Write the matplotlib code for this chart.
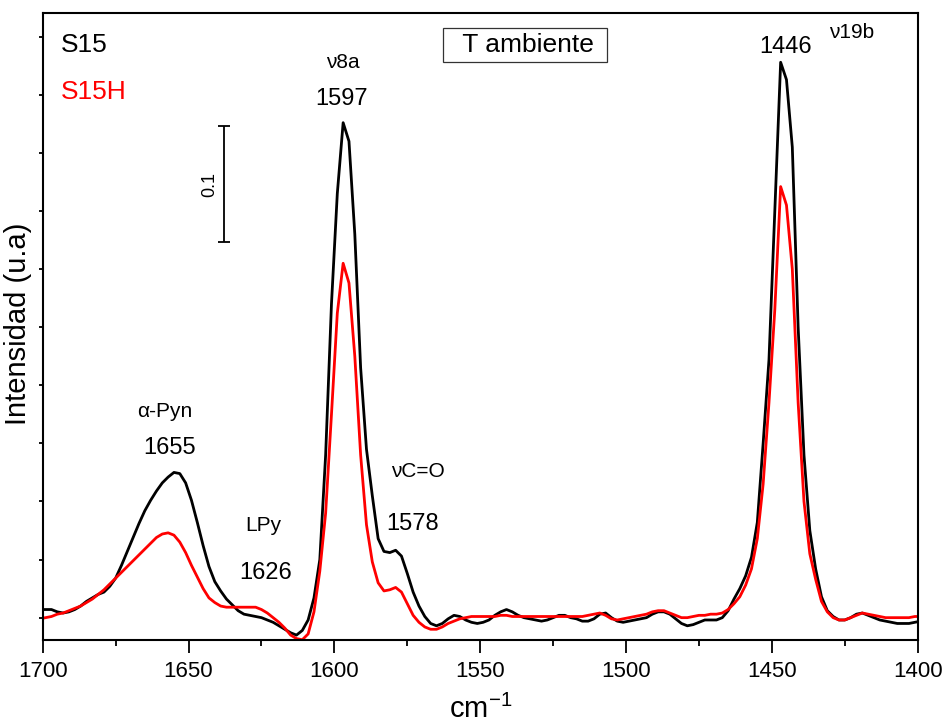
import numpy as np
import matplotlib.pyplot as plt

plt.rcParams["font.family"] = ["Liberation Sans", "DejaVu Sans"]
plt.rcParams["mathtext.default"] = "regular"

# wavenumber grid, cm-1 (descending, 2 cm-1 step)
wavenumber = np.arange(1701, 1398, -2)

# S15 spectrum
s15 = [
    0.007, 0.007, 0.007, 0.005, 0.004, 0.005, 0.007, 0.010,
    0.014, 0.017, 0.020, 0.022, 0.027, 0.034, 0.045, 0.057,
    0.069, 0.081, 0.092, 0.101, 0.109, 0.116, 0.121, 0.125,
    0.124, 0.116, 0.101, 0.082, 0.062, 0.044, 0.031, 0.023,
    0.016, 0.011, 0.006, 0.003, 0.002, 0.001, 0.000, -0.002,
    -0.004, -0.007, -0.010, -0.013, -0.015, -0.011, -0.002, 0.017,
    0.050, 0.140, 0.270, 0.365, 0.426, 0.410, 0.330, 0.215,
    0.145, 0.105, 0.068, 0.057, 0.056, 0.058, 0.053, 0.038,
    0.022, 0.010, 0.001, -0.005, -0.007, -0.005, -0.001, 0.002,
    0.001, -0.002, -0.004, -0.005, -0.004, -0.002, 0.002, 0.005,
    0.007, 0.005, 0.002, 0.000, -0.001, -0.002, -0.003, -0.002,
    0.000, 0.002, 0.002, 0.000, -0.001, -0.003, -0.003, -0.001,
    0.003, 0.004, 0.000, -0.003, -0.004, -0.003, -0.002, -0.001,
    0.000, 0.003, 0.005, 0.005, 0.003, -0.001, -0.005, -0.007,
    -0.006, -0.004, -0.002, -0.002, -0.002, 0.000, 0.006, 0.016,
    0.025, 0.036, 0.052, 0.082, 0.150, 0.222, 0.350, 0.478,
    0.463, 0.405, 0.250, 0.140, 0.075, 0.042, 0.018, 0.006,
    0.001, -0.002, -0.002, 0.000, 0.003, 0.004, 0.002, 0.000,
    -0.002, -0.003, -0.004, -0.005, -0.005, -0.005, -0.004, -0.003,
]

# S15H spectrum
s15h = [
    -0.001, 0.000, 0.001, 0.003, 0.004, 0.006, 0.008, 0.010,
    0.013, 0.016, 0.020, 0.024, 0.029, 0.034, 0.039, 0.044,
    0.049, 0.054, 0.059, 0.064, 0.069, 0.072, 0.073, 0.071,
    0.065, 0.056, 0.045, 0.035, 0.025, 0.017, 0.013, 0.010,
    0.009, 0.009, 0.009, 0.009, 0.009, 0.009, 0.007, 0.004,
    0.000, -0.004, -0.009, -0.015, -0.018, -0.019, -0.014, 0.005,
    0.040, 0.090, 0.175, 0.262, 0.305, 0.288, 0.225, 0.140,
    0.080, 0.048, 0.030, 0.023, 0.024, 0.026, 0.022, 0.012,
    0.002, -0.004, -0.008, -0.010, -0.010, -0.008, -0.005, -0.003,
    -0.001, 0.000, 0.001, 0.001, 0.001, 0.001, 0.001, 0.002,
    0.002, 0.001, 0.001, 0.001, 0.001, 0.001, 0.001, 0.001,
    0.001, 0.001, 0.001, 0.001, 0.001, 0.001, 0.002, 0.003,
    0.004, 0.002, -0.001, -0.002, -0.001, 0.000, 0.001, 0.002,
    0.003, 0.005, 0.006, 0.006, 0.004, 0.002, 0.000, 0.000,
    0.001, 0.002, 0.002, 0.003, 0.003, 0.004, 0.007, 0.012,
    0.018, 0.028, 0.042, 0.068, 0.115, 0.185, 0.265, 0.371,
    0.355, 0.300, 0.185, 0.100, 0.055, 0.033, 0.014, 0.005,
    0.000, -0.002, -0.002, 0.000, 0.002, 0.004, 0.003, 0.002,
    0.001, 0.000, 0.000, 0.000, 0.000, 0.000, 0.001, 0.001,
]

# band annotations: text, x (cm-1), y, size
bands = [
    ("\u03bd8a", 1597.0, 0.478, 15),
    ("1597", 1597.4, 0.446, 17),
    ("1446", 1445.2, 0.491, 17),
    ("\u03bd19b", 1422.6, 0.504, 15),
    ("\u03b1-Pyn", 1658.1, 0.177, 15),
    ("1655", 1656.4, 0.146, 17),
    ("LPy", 1624.5, 0.079, 15),
    ("1626", 1623.5, 0.0385, 17),
    ("\u03bdC=O", 1571.3, 0.1256, 15),
    ("1578", 1573.1, 0.081, 17),
]

fig = plt.figure(figsize=(9.43, 7.26), dpi=100)
ax = fig.add_axes([0.0453, 0.1185, 0.9279, 0.8636])

ax.plot(wavenumber, s15, color="black", lw=2.0)
ax.plot(wavenumber, s15h, color="#ff0000", lw=2.0)

ax.set_xlim(1700, 1400)
ax.set_ylim(-0.0192, 0.5204)

ax.set_xticks(np.arange(1700, 1399, -50))
ax.set_xticks(np.arange(1675, 1400, -50), minor=True)
ax.set_yticks(np.arange(0, 0.51, 0.05))
ax.set_yticklabels([])
ax.tick_params(axis="x", which="major", direction="out", length=9, width=1.3,
               labelsize=16, pad=6)
ax.tick_params(axis="x", which="minor", direction="out", length=4.5, width=1.3)
ax.tick_params(axis="y", direction="out", length=3, width=1.3)
for sp in ax.spines.values():
    sp.set_linewidth(1.5)

ax.set_xlabel("cm$^{-1}$", fontsize=21, labelpad=9)
ax.set_ylabel("Intensidad (u.a)", fontsize=21)
ax.yaxis.set_label_coords(-0.012, 0.504)

for txt, x, y, fs in bands:
    ax.text(x, y, txt, fontsize=fs, ha="center", va="center")

# sample legend
ax.text(0.021, 0.949, "S15", transform=ax.transAxes, fontsize=19,
        color="black", va="center")
ax.text(0.021, 0.874, "S15H", transform=ax.transAxes, fontsize=19,
        color="#ff0000", va="center")

ax.text(0.551, 0.949, "  T ambiente ", transform=ax.transAxes, fontsize=19,
        ha="center", va="center",
        bbox=dict(boxstyle="square,pad=0.2", fc="white", ec="#333333", lw=0.9))

# intensity scale bar
ax.errorbar(1637.7, 0.373, yerr=0.05, color="black", lw=1.3,
            capsize=4, capthick=1.3)
ax.text(1642.6, 0.373, "0.1", rotation=90, fontsize=13,
        ha="center", va="center")

fig.savefig("out.png", dpi=100)
